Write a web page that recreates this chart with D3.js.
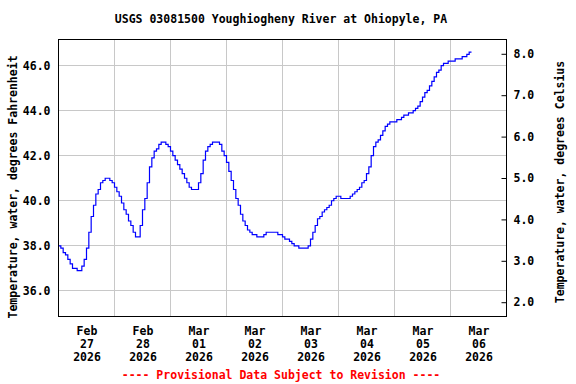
<!DOCTYPE html>
<html>
<head>
<meta charset="utf-8">
<script src="https://cdn.jsdelivr.net/npm/d3@7"></script>
<style>
  body { margin: 0; background: #fff; }
  svg text { font-family: "DejaVu Sans Mono", "Liberation Mono", monospace; font-weight: bold; font-size: 11.5px; fill: #000; }
</style>
</head>
<body>
<div id="chart"></div>
<script>
// hourly water temperature (deg F), one array per day
const feb27 = [38.0,37.9,37.7,37.6,37.4,37.2,37.0,37.0,36.9,36.9,37.1,37.4,37.9,38.6,39.3,39.8,40.3,40.5,40.8,40.9,41.0,41.0,40.9,40.8];
const feb28 = [40.6,40.4,40.2,39.9,39.6,39.4,39.1,38.9,38.6,38.4,38.4,38.9,39.6,40.1,40.8,41.5,41.9,42.2,42.3,42.5,42.6,42.6,42.5,42.4];
const mar01 = [42.2,42.0,41.8,41.6,41.4,41.2,41.0,40.8,40.6,40.5,40.5,40.5,40.8,41.2,41.8,42.2,42.4,42.5,42.6,42.6,42.6,42.5,42.2,42.0];
const mar02 = [41.7,41.3,40.9,40.5,40.1,39.8,39.4,39.1,38.9,38.7,38.6,38.5,38.5,38.4,38.4,38.4,38.5,38.6,38.6,38.6,38.6,38.6,38.5,38.5];
const mar03 = [38.4,38.3,38.3,38.2,38.1,38.0,38.0,37.9,37.9,37.9,37.9,38.0,38.3,38.6,38.9,39.2,39.3,39.5,39.6,39.7,39.8,40.0,40.1,40.2];
const mar04 = [40.2,40.1,40.1,40.1,40.1,40.2,40.3,40.4,40.5,40.6,40.8,40.9,41.2,41.5,42.0,42.4,42.6,42.7,42.9,43.1,43.3,43.4,43.5,43.5];
const mar05 = [43.5,43.6,43.6,43.7,43.8,43.8,43.9,43.9,44.0,44.1,44.2,44.4,44.6,44.8,44.9,45.1,45.3,45.5,45.7,45.8,46.0,46.1,46.1,46.2];
const mar06 = [46.2,46.2,46.3,46.3,46.3,46.4,46.4,46.5,46.6,46.6];

const startTime = new Date(2026, 1, 27, 0, 0);
const endTime = new Date(2026, 2, 7, 0, 0);

const dayLabels = ["Feb 27 2026","Feb 28 2026","Mar 01 2026","Mar 02 2026","Mar 03 2026","Mar 04 2026","Mar 05 2026","Mar 06 2026"];
const fTicks = [36, 38, 40, 42, 44, 46];
const cTicks = [2, 3, 4, 5, 6, 7, 8];

const title = "USGS 03081500 Youghiogheny River at Ohiopyle, PA";
const leftTitle = "Temperature, water, degrees Fahrenheit";
const rightTitle = "Temperature, water, degrees Celsius";
const footer = "---- Provisional Data Subject to Revision ----";

const width = 576, height = 384;
const plot = { left: 58.5, right: 506.5, top: 39.5, bottom: 316.5 };

const tempF = [].concat(feb27, feb28, mar01, mar02, mar03, mar04, mar05, mar06);
const data = tempF.map((v, i) => ({ date: d3.timeHour.offset(startTime, i), value: v }));

const svg = d3.select("#chart").append("svg")
    .attr("width", width)
    .attr("height", height);

const x = d3.scaleTime().domain([startTime, endTime]).range([plot.left, plot.right]);
const yF = d3.scaleLinear().domain([34.86, 47.16]).range([plot.bottom, plot.top]);
const yC = d3.scaleLinear().domain([1.655, 8.345]).range([plot.bottom, plot.top]);

// grid
const days = d3.timeDay.range(d3.timeDay.offset(startTime, 1), endTime);
svg.append("g").selectAll("line")
    .data(days)
    .join("line")
    .attr("x1", d => Math.round(x(d) - 0.5) + 0.5)
    .attr("x2", d => Math.round(x(d) - 0.5) + 0.5)
    .attr("y1", plot.top)
    .attr("y2", plot.bottom)
    .attr("stroke", "#c8c8c8");

svg.append("g").selectAll("line")
    .data(fTicks)
    .join("line")
    .attr("x1", plot.left)
    .attr("x2", plot.right)
    .attr("y1", d => Math.round(yF(d) - 0.5) + 0.5)
    .attr("y2", d => Math.round(yF(d) - 0.5) + 0.5)
    .attr("stroke", "#c8c8c8");

// the temperature line
const line = d3.line()
    .x(d => x(d.date))
    .y(d => yF(d.value))
    .curve(d3.curveStepAfter);

svg.append("path")
    .datum(data)
    .attr("fill", "none")
    .attr("stroke", "#0000ff")
    .attr("stroke-width", 1.2)
    .attr("d", line);

svg.append("rect")
    .attr("x", plot.left)
    .attr("y", plot.top)
    .attr("width", plot.right - plot.left)
    .attr("height", plot.bottom - plot.top)
    .attr("fill", "none")
    .attr("stroke", "#000");

// left axis (F)
const leftAxis = svg.append("g")
    .attr("transform", `translate(${plot.left},0)`)
    .call(d3.axisLeft(yF).tickValues(fTicks).tickFormat(d3.format(".1f")).tickSize(0).tickPadding(8));
leftAxis.select(".domain").remove();
leftAxis.selectAll("text").attr("font-size", null).attr("font-family", null).attr("fill", null);

// right axis (C)
const rightAxis = svg.append("g")
    .attr("transform", `translate(${plot.right},0)`)
    .call(d3.axisRight(yC).tickValues(cTicks).tickFormat(d3.format(".1f")).tickSizeInner(-5).tickSizeOuter(0).tickPadding(7));
rightAxis.select(".domain").remove();
rightAxis.selectAll("line").attr("stroke", "#000");
rightAxis.selectAll("text").attr("font-size", null).attr("font-family", null).attr("fill", null);

// bottom axis, labels at noon of every day
const noon = d3.timeDay.range(startTime, endTime).map(d => d3.timeHour.offset(d, 12));
const bottomAxis = svg.append("g")
    .attr("transform", `translate(0,${plot.bottom})`)
    .call(d3.axisBottom(x).tickValues(noon).tickSize(0).tickFormat(""));
bottomAxis.select(".domain").remove();
bottomAxis.selectAll(".tick text").remove();
bottomAxis.selectAll(".tick").each(function(d, i) {
    const parts = dayLabels[i].split(" ");
    const t = d3.select(this).append("text")
        .attr("text-anchor", "middle")
        .attr("y", 18);
    parts.forEach((p, k) => {
        t.append("tspan").attr("x", 0).attr("dy", k === 0 ? 0 : 13).text(p);
    });
});

// titles
svg.append("text")
    .attr("x", 281)
    .attr("y", 23)
    .attr("text-anchor", "middle")
    .text(title);

svg.append("text")
    .attr("transform", "translate(17,187) rotate(-90)")
    .attr("text-anchor", "middle")
    .text(leftTitle);

svg.append("text")
    .attr("transform", "translate(564,182) rotate(-90)")
    .attr("text-anchor", "middle")
    .text(rightTitle);

svg.append("text")
    .attr("x", 281)
    .attr("y", 379)
    .attr("text-anchor", "middle")
    .style("fill", "#ff0000")
    .text(footer);
</script>
</body>
</html>
